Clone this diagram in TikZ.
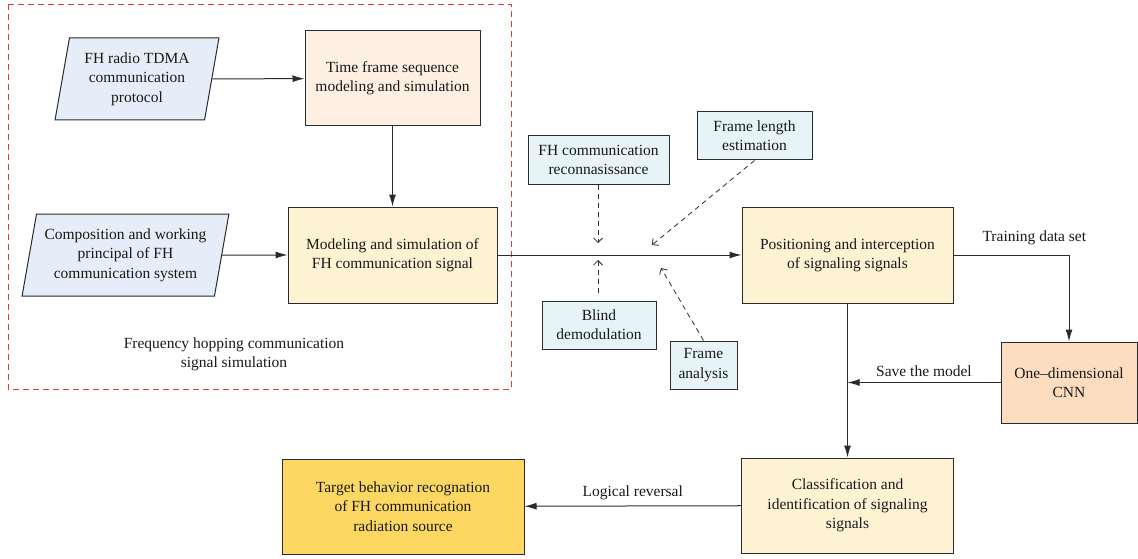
\documentclass[tikz,border=0pt]{standalone}
\usepackage{fontspec}
\setmainfont{Liberation Serif}
\usetikzlibrary{arrows.meta,shapes.geometric}

\definecolor{inputfill}{HTML}{E5EDF8}
\definecolor{peachfill}{HTML}{FDF0E2}
\definecolor{creamfill}{HTML}{FDF3D3}
\definecolor{cyanfill}{HTML}{E6F4F8}
\definecolor{cnnfill}{HTML}{FDDDC0}
\definecolor{goldfill}{HTML}{FCD862}
\definecolor{edge}{HTML}{2B2B2B}
\definecolor{framered}{HTML}{E03B3B}

\tikzset{
  txt/.style={font=\fontsize{15.5}{19.3}\selectfont, align=center, text=black!90},
  box/.style={txt, draw=edge, line width=1pt, inner sep=0pt, rectangle},
  inbox/.style={box, trapezium, trapezium stretches=true},
  flow/.style={draw=edge, line width=1pt, -{Latex[length=12pt,width=7pt]}},
  hint/.style={draw=edge, line width=0.8pt, dash pattern=on 5pt off 4pt,
    -{Straight Barb[length=4.5pt,width=9pt]}},
  lbl/.style={txt}
}

\begin{document}
\begin{tikzpicture}[x=1pt,y=-1pt]
  \useasboundingbox (0,0) rectangle (1138,559);

  % simulation group frame
  \draw[framered, line width=0.9pt, dash pattern=on 6pt off 4pt] (8,4) rectangle (511,389);
  \node[lbl] (grp) at (234,354) {Frequency hopping communication\\signal simulation};

  % inputs
  \node[inbox, fill=inputfill, trapezium left angle=78, trapezium right angle=102,
        minimum width=164, minimum height=82] (proto) at (137,79)
        {FH radio TDMA\\communication\\protocol};
  \node[inbox, fill=inputfill, trapezium left angle=76, trapezium right angle=104,
        minimum width=207, minimum height=82] (princ) at (125.5,255)
        {Composition and working\\principal of FH\\communication system};

  % processing boxes
  \node[box, fill=peachfill, minimum width=175, minimum height=95] (tfs) at (392.5,78.5)
        {Time frame sequence\\modeling and simulation};
  \node[box, fill=creamfill, minimum width=209, minimum height=96] (msim) at (392.5,255)
        {Modeling and simulation of\\FH communication signal};
  \node[box, fill=creamfill, minimum width=211, minimum height=96] (pos) at (847.5,255)
        {Positioning and interception\\of signaling signals};
  \node[box, fill=cnnfill, minimum width=136, minimum height=81] (cnn) at (1069,382.5)
        {One--dimensional\\CNN};
  \node[box, fill=creamfill, minimum width=212, minimum height=95] (cls) at (847.5,505.5)
        {Classification and\\identification of signaling\\signals};
  \node[box, fill=goldfill, minimum width=242, minimum height=95] (tgt) at (403,506.5)
        {Target behavior recognation\\of FH communication\\radiation source};

  % auxiliary techniques
  \node[box, fill=cyanfill, minimum width=141, minimum height=48] (recon) at (598.5,160)
        {FH communication\\reconnasissance};
  \node[box, fill=cyanfill, minimum width=115, minimum height=48] (flen) at (754.5,136)
        {Frame length\\estimation};
  \node[box, fill=cyanfill, minimum width=114, minimum height=48] (blind) at (599,325)
        {Blind\\demodulation};
  \node[box, fill=cyanfill, minimum width=67, minimum height=48] (fana) at (703.5,365)
        {Frame\\analysis};

  % main flow
  \draw[flow] (proto) -- (tfs);
  \draw[flow] (tfs) -- (msim);
  \draw[flow] (princ) -- (msim);
  \draw[flow] (msim) -- (pos);
  \draw[flow] (pos.east) -| (cnn.north)
        node[lbl, pos=0.35, above=6pt] (train) {Training data set};
  \coordinate (join) at (pos.south |- cnn.west);
  \draw[flow] (cnn.west) -- (join)
        node[lbl, midway, above=2pt] (save) {Save the model};
  \draw[flow] (pos.south) -- (cls.north);
  \draw[flow] (cls) -- (tgt)
        node[lbl, midway, above=2pt] (rev) {Logical reversal};

  % dashed hints onto the signal path
  \coordinate (rtip) at (598,243);
  \coordinate (btip) at (598,260);
  \coordinate (ltip) at (652,245);
  \coordinate (atip) at (661,268);
  \draw[hint] (recon.south -| rtip) -- (rtip);
  \draw[hint, shorten <=8pt] (blind.north -| btip) -- (btip);
  \draw[hint] (flen.south) -- (ltip);
  \draw[hint] (fana.north) -- (atip);
\end{tikzpicture}
\end{document}
